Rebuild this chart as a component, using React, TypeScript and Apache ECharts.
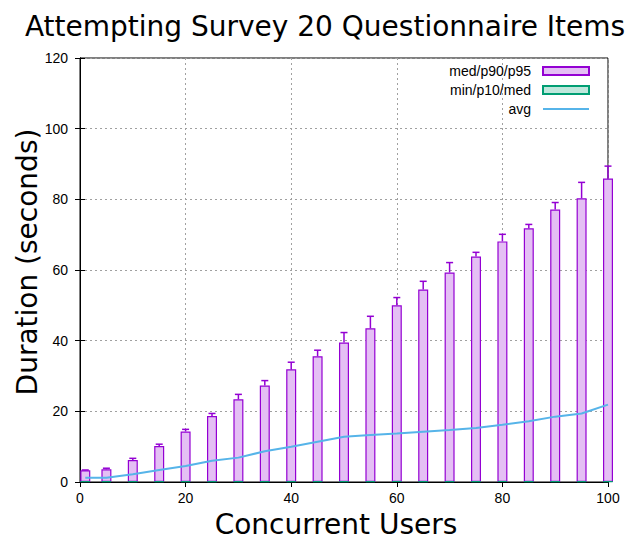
import React, { useEffect, useRef } from 'react'
import * as echarts from 'echarts'

// concurrent users (x) and durations in seconds
const users = [1, 5, 10, 15, 20, 25, 30, 35, 40, 45, 50, 55, 60, 65, 70, 75, 80, 85, 90, 95, 100]
const p90 = [3.3, 3.6, 6.2, 10.2, 14.3, 18.7, 23.4, 27.3, 31.9, 35.6, 39.5, 43.5, 50.0, 54.5, 59.3, 63.8, 68.1, 71.8, 77.1, 80.3, 85.9]
const p95 = [3.4, 3.9, 6.7, 10.7, 14.9, 19.4, 24.8, 28.7, 33.9, 37.3, 42.3, 46.9, 52.2, 56.8, 62.1, 65.0, 70.1, 72.9, 79.1, 84.8, 89.4]
const lowBox = [0.2, 0.2, 0.2, 0.2, 0.2, 0.2, 0.2, 0.2, 0.2, 0.2, 0.2, 0.2, 0.3, 0.2, 0.2, 0.2, 0.3, 0.2, 0.2, 0.2, 0.2]
const avg = [1.2, 1.2, 2.2, 3.4, 4.5, 6.0, 6.9, 8.7, 10.0, 11.4, 12.8, 13.3, 13.7, 14.2, 14.7, 15.3, 16.2, 17.2, 18.5, 19.4, 21.9]

const titleText = 'Attempting Survey 20 Questionnaire Items'
const xName = 'Concurrent Users'
const yName = 'Duration (seconds)'

const PURPLE = '#9400d3'
const GREEN = '#009e73'
const BLUE = '#56b4e9'
const tickFont = 'Liberation Sans'
const bigFont = 'DejaVu Sans'

const App = () => {
    const chart: any = useRef()
    useEffect(() => {
        const myChart = echarts.init(chart.current, null, { renderer: 'svg' })
        const gridLine = { show: true, lineStyle: { color: '#a0a0a0', type: [2, 3], width: 1 } }
        const mirror = {
            axisLine: { show: true, lineStyle: { color: '#000' } },
            axisTick: { show: true, inside: true, length: 5, lineStyle: { color: '#000' } },
            axisLabel: { show: false },
            splitLine: { show: false },
        }
        myChart.setOption({
            animation: false,
            backgroundColor: '#fff',
            grid: { left: 80, right: 32, top: 58, bottom: 58, show: true, borderColor: '#000', borderWidth: 1 },
            graphic: [
                { type: 'text', x: 325, y: 26, style: { text: titleText, font: `28px "${bigFont}"`, fill: '#000', textAlign: 'center', textVerticalAlign: 'middle' } },
                { type: 'text', x: 336, y: 524, style: { text: xName, font: `28px "${bigFont}"`, fill: '#000', textAlign: 'center', textVerticalAlign: 'middle' } },
                { type: 'text', x: 27, y: 262, rotation: Math.PI / 2, style: { text: yName, font: `28px "${bigFont}"`, fill: '#000', textAlign: 'center', textVerticalAlign: 'middle' } },
            ],
            legend: {
                orient: 'vertical',
                right: 50,
                top: 64,
                padding: 0,
                align: 'right',
                itemWidth: 46,
                itemHeight: 8,
                itemGap: 5,
                textStyle: { fontFamily: tickFont, fontSize: 14, color: '#000', padding: [0, 7, 0, 0] },
                data: [
                    { name: 'med/p90/p95', icon: 'rect' },
                    { name: 'min/p10/med', icon: 'rect' },
                    { name: 'avg', itemStyle: { opacity: 0, color: 'transparent', borderWidth: 0 } },
                ],
            },
            xAxis: [
                {
                    type: 'value', min: 0, max: 100, interval: 20,
                    axisLine: { show: true, lineStyle: { color: '#000' } },
                    axisTick: { show: true, inside: true, length: 5, lineStyle: { color: '#000' } },
                    axisLabel: { color: '#000', fontFamily: tickFont, fontSize: 14, margin: 9 },
                    splitLine: gridLine,
                },
                { type: 'value', position: 'top', min: 0, max: 100, interval: 20, ...mirror },
            ],
            yAxis: [
                {
                    type: 'value', min: 0, max: 120, interval: 20,
                    axisLine: { show: true, lineStyle: { color: '#000' } },
                    axisTick: { show: true, inside: true, length: 5, lineStyle: { color: '#000' } },
                    axisLabel: { color: '#000', fontFamily: tickFont, fontSize: 14, margin: 12 },
                    splitLine: gridLine,
                },
                { type: 'value', position: 'right', min: 0, max: 120, interval: 20, ...mirror },
            ],
            series: [
                {
                    name: 'med/p90/p95',
                    type: 'bar',
                    barWidth: 10,
                    barGap: '-100%',
                    data: users.map((u, i) => [u, p90[i]]),
                    itemStyle: { color: '#e4bff4', borderColor: PURPLE, borderWidth: 1.2 },
                },
                {
                    name: 'whisker',
                    type: 'custom',
                    data: users.map((u, i) => [u, p90[i], p95[i]]),
                    encode: { x: 0, y: [1, 2] },
                    renderItem: (params: any, api: any) => {
                        const a = api.coord([api.value(0), api.value(1)])
                        const b = api.coord([api.value(0), api.value(2)])
                        const st = { stroke: PURPLE, lineWidth: 1.5 }
                        return {
                            type: 'group',
                            children: [
                                { type: 'line', shape: { x1: a[0], y1: a[1], x2: b[0], y2: b[1] }, style: st },
                                { type: 'line', shape: { x1: b[0] - 3.5, y1: b[1], x2: b[0] + 3.5, y2: b[1] }, style: st },
                            ],
                        }
                    },
                    z: 3,
                },
                {
                    name: 'min/p10/med',
                    type: 'bar',
                    barWidth: 10,
                    barGap: '-100%',
                    data: users.map((u, i) => [u, lowBox[i]]),
                    itemStyle: { color: '#bfe7dc', borderColor: GREEN, borderWidth: 1 },
                },
                {
                    name: 'avg',
                    type: 'line',
                    data: users.map((u, i) => [u, avg[i]]),
                    symbol: 'none',
                    color: BLUE,
                    lineStyle: { color: BLUE, width: 2 },
                    z: 4,
                },
            ],
        })
        return () => {
            myChart.dispose()
        }
    }, [])

    return (
        <div ref={chart} style={{ position: 'absolute', left: 0, top: 0, width: 640, height: 540 }} />
    )
}

export default App
